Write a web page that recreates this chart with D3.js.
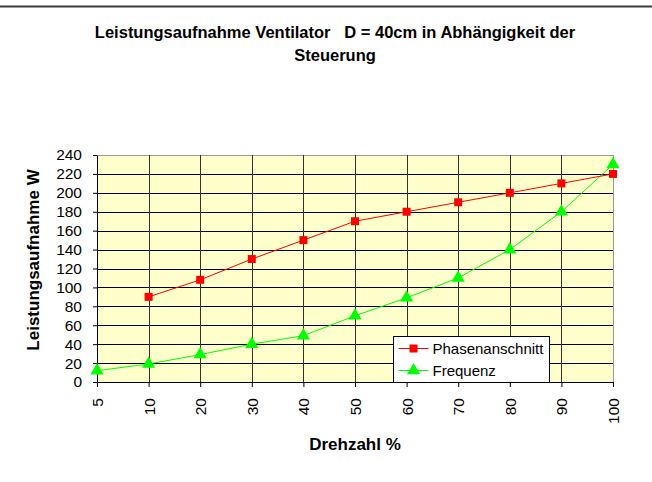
<!DOCTYPE html>
<html>
<head>
<meta charset="utf-8">
<script src="https://cdn.jsdelivr.net/npm/d3@7"></script>
<style>
  body { margin: 0; background: #fff; }
  svg { font-family: Arial, "Liberation Sans", sans-serif; }
</style>
</head>
<body>
<div id="chart"></div>
<script>
const categories = ["5", "10", "20", "30", "40", "50", "60", "70", "80", "90", "100"];
const phasenanschnitt = [null, 90, 108, 130, 150, 170, 180, 190, 200, 210, 220];
const frequenz = [12, 19, 29, 40, 49, 70, 89, 110, 140, 180, 230];
const yTicks = [0, 20, 40, 60, 80, 100, 120, 140, 160, 180, 200, 220, 240];

const W = 652, H = 482;
const margin = { top: 155, right: 39, bottom: 100, left: 97 };
const width = W - margin.left - margin.right;
const height = H - margin.top - margin.bottom;

const root = d3.select("#chart").append("svg")
    .attr("width", W)
    .attr("height", H);

// top rule
root.append("line")
    .attr("x1", 0).attr("x2", W)
    .attr("y1", 6.5).attr("y2", 6.5)
    .attr("stroke", "#3a3a3a")
    .attr("stroke-width", 2);

// title
const title = root.append("text")
    .attr("text-anchor", "middle")
    .attr("font-size", 16.5)
    .attr("font-weight", "bold");
title.append("tspan").attr("x", 335).attr("y", 38)
    .attr("xml:space", "preserve")
    .text("Leistungsaufnahme Ventilator   D = 40cm in Abhängigkeit der");
title.append("tspan").attr("x", 335).attr("y", 61).text("Steuerung");

const svg = root.append("g")
    .attr("transform", "translate(" + margin.left + "," + margin.top + ")");

const x = d3.scalePoint()
    .domain(categories)
    .range([0, width])
    .padding(0);

const y = d3.scaleLinear()
    .domain([0, 240])
    .range([height, 0]);

// plot background
svg.append("rect")
    .attr("width", width)
    .attr("height", height)
    .attr("fill", "#FFFFCC");

// horizontal grid
svg.selectAll(".hgrid")
    .data(yTicks.slice(1))
    .enter().append("line")
    .attr("class", "hgrid")
    .attr("x1", 0).attr("x2", width)
    .attr("y1", d => Math.round(y(d)) + 0.5)
    .attr("y2", d => Math.round(y(d)) + 0.5)
    .attr("stroke", d => d === 240 ? "#999" : "#000")
    .attr("stroke-width", 1);

// vertical grid
svg.selectAll(".vgrid")
    .data(categories.slice(1))
    .enter().append("line")
    .attr("class", "vgrid")
    .attr("x1", d => Math.round(x(d)) + 0.5)
    .attr("x2", d => Math.round(x(d)) + 0.5)
    .attr("y1", 0).attr("y2", height)
    .attr("stroke", d => d === "100" ? "#999" : "#333")
    .attr("stroke-width", 1);

// axes
const yAxis = svg.append("g")
    .call(d3.axisLeft(y).tickValues(yTicks).tickSize(4).tickPadding(11).tickSizeOuter(0));
yAxis.select(".domain").attr("stroke", "#000");
yAxis.selectAll("text").attr("font-size", 15.5).attr("fill", "#000");

const xAxis = svg.append("g")
    .attr("transform", "translate(0," + height + ")")
    .call(d3.axisBottom(x).tickSize(5).tickSizeOuter(0));
xAxis.select(".domain").attr("stroke", "#000");
xAxis.selectAll("text")
    .attr("font-size", 15.5)
    .attr("fill", "#000")
    .style("text-anchor", "end")
    .attr("x", -16)
    .attr("y", 0)
    .attr("dy", "0.35em")
    .attr("transform", "rotate(-90)");

// axis titles
root.append("text")
    .attr("transform", "translate(39," + 260 + ") rotate(-90)")
    .attr("text-anchor", "middle")
    .attr("font-size", 17)
    .attr("font-weight", "bold")
    .text("Leistungsaufnahme W");

root.append("text")
    .attr("x", 355)
    .attr("y", 450)
    .attr("text-anchor", "middle")
    .attr("font-size", 17)
    .attr("font-weight", "bold")
    .text("Drehzahl %");

// series
const redPts = categories.map((c, i) => ({ c: c, v: phasenanschnitt[i] })).filter(d => d.v != null);
const greenPts = categories.map((c, i) => ({ c: c, v: frequenz[i] }));

const line = d3.line().x(d => x(d.c)).y(d => y(d.v));

svg.append("path")
    .datum(greenPts)
    .attr("d", line)
    .attr("fill", "none")
    .attr("stroke", "#00FF00")
    .attr("stroke-width", 1);

svg.append("path")
    .datum(redPts)
    .attr("d", line)
    .attr("fill", "none")
    .attr("stroke", "#FF0000")
    .attr("stroke-width", 1);

const tri = d3.symbol().type(d3.symbolTriangle).size(75);
const sq = d3.symbol().type(d3.symbolSquare).size(64);

svg.selectAll(".tri")
    .data(greenPts)
    .enter().append("path")
    .attr("class", "tri")
    .attr("d", tri)
    .attr("transform", d => "translate(" + x(d.c) + "," + y(d.v) + ")")
    .attr("fill", "#00FF00");

svg.selectAll(".sq")
    .data(redPts)
    .enter().append("path")
    .attr("class", "sq")
    .attr("d", sq)
    .attr("transform", d => "translate(" + x(d.c) + "," + y(d.v) + ")")
    .attr("fill", "#FF0000");

// legend
const legend = root.append("g").attr("transform", "translate(393.5,336.5)");
legend.append("rect")
    .attr("width", 156)
    .attr("height", 46)
    .attr("fill", "#fff")
    .attr("stroke", "#000")
    .attr("stroke-width", 1);

const items = [
    { name: "Phasenanschnitt", color: "#FF0000", sym: sq },
    { name: "Frequenz", color: "#00FF00", sym: tri }
];
items.forEach((it, i) => {
    const cy = 12 + i * 22;
    legend.append("line")
        .attr("x1", 5).attr("x2", 35)
        .attr("y1", cy).attr("y2", cy)
        .attr("stroke", it.color);
    legend.append("path")
        .attr("d", it.sym)
        .attr("transform", "translate(20," + cy + ")")
        .attr("fill", it.color);
    legend.append("text")
        .attr("x", 39)
        .attr("y", cy)
        .attr("dy", "0.35em")
        .attr("font-size", 15)
        .attr("fill", "#000")
        .text(it.name);
});
</script>
</body>
</html>
